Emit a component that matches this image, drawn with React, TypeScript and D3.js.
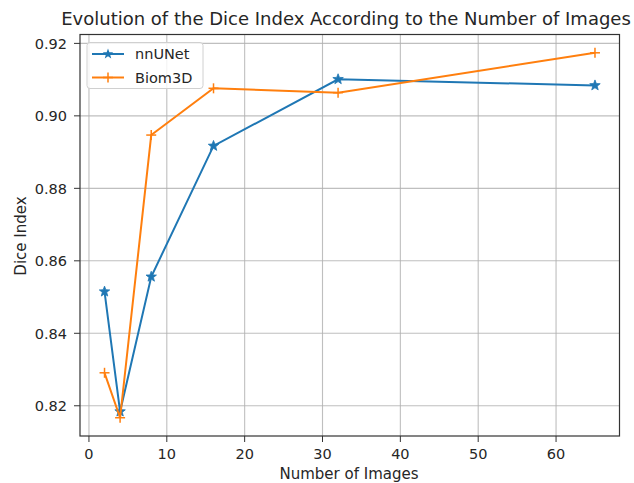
import React from "react";
import * as d3 from "d3";

const numImages = [2, 4, 8, 16, 32, 65];
const nnUNet = [0.8515, 0.8184, 0.8556, 0.8917, 0.9101, 0.9084];
const biom3D = [0.8291, 0.8167, 0.8947, 0.9076, 0.9064, 0.9174];
const xTicks = [0, 10, 20, 30, 40, 50, 60];
const yTicks = [0.82, 0.84, 0.86, 0.88, 0.9, 0.92];

const W = 634, H = 483;
const M = { left: 80, right: 619.5, top: 34.5, bottom: 436 };
const FONT = "DejaVu Sans, sans-serif";
const BLUE = "#1f77b4", ORANGE = "#ff7f0e";

function starPath(cx: number, cy: number, r: number) {
  const pts: string[] = [];
  const ri = r * 0.42;
  for (let i = 0; i < 10; i++) {
    const a = -Math.PI / 2 + (i * Math.PI) / 5;
    const rr = i % 2 === 0 ? r : ri;
    pts.push(`${cx + rr * Math.cos(a)},${cy + rr * Math.sin(a)}`);
  }
  return "M" + pts.join("L") + "Z";
}

export default function App() {
  const x = d3.scaleLinear().domain([-1.15, 68.15]).range([M.left, M.right]);
  const y = d3.scaleLinear().domain([0.81166, 0.92245]).range([M.bottom, M.top]);
  const line = d3.line<[number, number]>().x(d => x(d[0])).y(d => y(d[1]));
  const nnPts = numImages.map((v, i) => [v, nnUNet[i]] as [number, number]);
  const bPts = numImages.map((v, i) => [v, biom3D[i]] as [number, number]);

  return (
    <svg width={W} height={H} style={{ position: "absolute", left: 0, top: 0 }} fontFamily={FONT}>
      <rect width={W} height={H} fill="#fff" />
      {xTicks.map(t => (
        <g key={"x" + t}>
          <line x1={x(t)} x2={x(t)} y1={M.top} y2={M.bottom} stroke="#b0b0b0" strokeWidth={1.1} opacity={0.8} />
          <line x1={x(t)} x2={x(t)} y1={M.bottom} y2={M.bottom + 6} stroke="#333" strokeWidth={1} />
          <text x={x(t)} y={459} textAnchor="middle" fontSize={14.5} fill="#262626">{t}</text>
        </g>
      ))}
      {yTicks.map(t => (
        <g key={"y" + t}>
          <line x1={M.left} x2={M.right} y1={y(t)} y2={y(t)} stroke="#b0b0b0" strokeWidth={1.1} opacity={0.8} />
          <line x1={M.left - 6} x2={M.left} y1={y(t)} y2={y(t)} stroke="#333" strokeWidth={1} />
          <text x={67} y={y(t)} dy="0.36em" textAnchor="end" fontSize={14.5} fill="#262626">{t.toFixed(2)}</text>
        </g>
      ))}
      <path d={line(nnPts) || ""} fill="none" stroke={BLUE} strokeWidth={2} />
      {nnPts.map((p, i) => (
        <path key={"s" + i} d={starPath(x(p[0]), y(p[1]), 5.5)} fill={BLUE} stroke={BLUE} strokeWidth={0.8} />
      ))}
      <path d={line(bPts) || ""} fill="none" stroke={ORANGE} strokeWidth={2} />
      {bPts.map((p, i) => (
        <g key={"p" + i} stroke={ORANGE} strokeWidth={1.5}>
          <line x1={x(p[0]) - 5} x2={x(p[0]) + 5} y1={y(p[1])} y2={y(p[1])} />
          <line x1={x(p[0])} x2={x(p[0])} y1={y(p[1]) - 5} y2={y(p[1]) + 5} />
        </g>
      ))}
      <rect x={M.left} y={M.top} width={M.right - M.left} height={M.bottom - M.top} fill="none" stroke="#333" strokeWidth={1.2} />
      <g>
        <rect x={87} y={42.5} width={116} height={46} rx={3} fill="#fff" fillOpacity={0.8} stroke="#d0d0d0" strokeWidth={1} />
        <line x1={92} x2={124} y1={54} y2={54} stroke={BLUE} strokeWidth={2} />
        <path d={starPath(108, 54, 5.5)} fill={BLUE} />
        <text x={135} y={54} dy="0.36em" fontSize={14.5} fill="#262626">nnUNet</text>
        <line x1={92} x2={124} y1={77.5} y2={77.5} stroke={ORANGE} strokeWidth={2} />
        <line x1={103} x2={113} y1={77.5} y2={77.5} stroke={ORANGE} strokeWidth={1.5} />
        <line x1={108} x2={108} y1={72.5} y2={82.5} stroke={ORANGE} strokeWidth={1.5} />
        <text x={135} y={77.5} dy="0.36em" fontSize={14.5} fill="#262626">Biom3D</text>
      </g>
      <text x={346} y={25} textAnchor="middle" fontSize={18} fill="#262626">
        Evolution of the Dice Index According to the Number of Images
      </text>
      <text x={349} y={479} textAnchor="middle" fontSize={15} fill="#262626">Number of Images</text>
      <text transform={`translate(26,236) rotate(-90)`} textAnchor="middle" fontSize={15} fill="#262626">Dice Index</text>
    </svg>
  );
}
